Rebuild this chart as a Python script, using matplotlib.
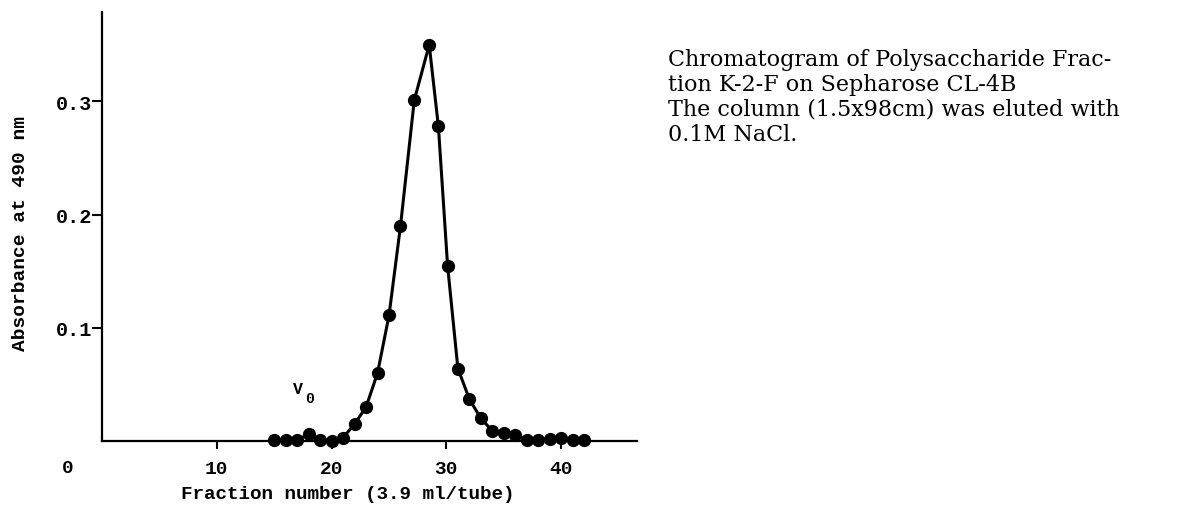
import matplotlib
matplotlib.use("Agg")
import matplotlib.pyplot as plt

# Data
fraction = [15, 16, 17, 18, 19, 20, 21, 22, 23, 24, 25, 26, 27.2, 28.5, 29.3, 30.1,
            31, 32, 33, 34, 35, 36, 37, 38, 39, 40, 41, 42]
absorbance = [0.001, 0.001, 0.001, 0.006, 0.001, 0.000, 0.003, 0.015, 0.030, 0.060,
              0.111, 0.190, 0.301, 0.350, 0.278, 0.155,
              0.064, 0.037, 0.020, 0.009, 0.007, 0.005, 0.001, 0.001, 0.002, 0.003,
              0.001, 0.001]
xticks = [10, 20, 30, 40]
yticks = [0.1, 0.2, 0.3]
ytick_labels = ["0.1", "0.2", "0.3"]

caption = ["Chromatogram of Polysaccharide Frac-",
           "tion K-2-F on Sepharose CL-4B",
           "The column (1.5x98cm) was eluted with",
           "0.1M NaCl."]

W, H = 1179, 506
fig = plt.figure(figsize=(W / 100, H / 100), dpi=100)
ax = fig.add_axes([102 / W, (H - 442) / H, 535 / W, 429 / H])

mono = "Liberation Mono"

ax.plot(fraction, absorbance, color="black", lw=2.2, marker="o", ms=8.5,
        mfc="black", mec="black", clip_on=False, zorder=3)

ax.set_xlim(0, 46.6)
ax.set_ylim(0, 0.379)
for s in ["top", "right"]:
    ax.spines[s].set_visible(False)
for s in ["left", "bottom"]:
    ax.spines[s].set_linewidth(1.6)

ax.set_xticks(xticks)
ax.set_xticklabels([str(t) for t in xticks], fontfamily=mono, fontsize=14, fontweight="bold")
ax.set_yticks(yticks)
ax.set_yticklabels(ytick_labels, fontfamily=mono, fontsize=14.5, fontweight="bold")
ax.tick_params(axis="x", direction="out", length=6, width=1.5, pad=8)
ax.tick_params(axis="y", direction="out", length=7, width=1.5, pad=0)

ax.text(-34 / 11.47, -26 / 1130, "0", fontfamily=mono, fontsize=14, fontweight="bold",
        ha="center", va="center", clip_on=False)

fig.text(348 / W, 1 - 495 / H, "Fraction number (3.9 ml/tube)", fontfamily=mono,
         fontsize=13.9, fontweight="bold", ha="center", va="center")
fig.text(21 / W, 1 - 234 / H, "Absorbance at 490 nm", fontfamily=mono,
         fontsize=14, fontweight="bold", ha="center", va="center", rotation=90)

ax.text(17.06, 0.046, "V", fontfamily=mono, fontsize=12, fontweight="bold",
        ha="center", va="center")
ax.text(18.1, 0.038, "0", fontfamily=mono, fontsize=10.5, fontweight="bold",
        ha="center", va="center")

for i, line in enumerate(caption):
    fig.text(668 / W, 1 - (60 + 25 * i) / H, line, fontfamily="DejaVu Serif",
             fontsize=16, ha="left", va="center")

fig.savefig("out.png", dpi=100)
